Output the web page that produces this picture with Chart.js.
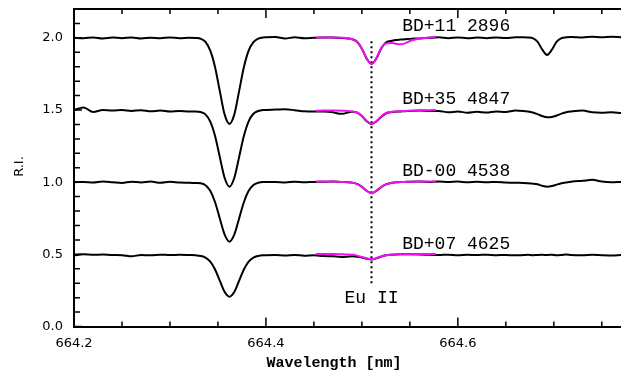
<!DOCTYPE html>
<html>
<head>
<meta charset="utf-8">
<script src="https://cdn.jsdelivr.net/npm/chart.js@4/dist/chart.umd.min.js"></script>
<style>
  html, body { margin: 0; padding: 0; background: #fff; }
</style>
</head>
<body>
<canvas id="chart" width="621" height="371"></canvas>
<script>
// observed spectra (relative intensity, each star shifted by 0.5)
const wave = [
  664.20, 664.21, 664.22, 664.23, 664.24, 664.25, 664.26, 664.27, 664.28, 664.29, 664.30, 664.31, 664.32,
  664.327, 664.332, 664.337, 664.342, 664.347, 664.352, 664.357, 664.362, 664.367, 664.372, 664.377, 664.382, 664.387, 664.392, 664.397,
  664.41, 664.42, 664.43, 664.44, 664.45, 664.46, 664.47,
  664.475, 664.48, 664.485, 664.49, 664.495, 664.50, 664.505, 664.51, 664.515, 664.52, 664.525, 664.53, 664.535, 664.54, 664.545, 664.55,
  664.56, 664.57, 664.58, 664.59, 664.60, 664.61, 664.62, 664.63, 664.64, 664.65, 664.66,
  664.668, 664.673, 664.678, 664.683, 664.688, 664.693, 664.698, 664.703, 664.708, 664.713, 664.718,
  664.73, 664.74, 664.75, 664.76, 664.77
];
const fluxBD11 = [
  2.000, 1.997, 2.003, 1.996, 2.002, 1.998, 2.003, 1.996, 2.001, 1.997, 2.003, 1.998, 2.001,
  1.999, 1.994, 1.972, 1.912, 1.797, 1.629, 1.468, 1.404, 1.468, 1.629, 1.797, 1.912, 1.970, 1.995, 2.003,
  2.006, 1.996, 2.004, 1.997, 2.000, 2.002, 2.002,
  2.000, 1.999, 1.996, 1.990, 1.973, 1.925, 1.856, 1.820, 1.856, 1.925, 1.968, 1.978, 1.985, 1.988, 1.990, 1.993,
  1.996, 2.000, 2.004, 1.998, 2.003, 1.997, 2.002, 1.998, 2.003, 1.999, 2.004,
  2.004, 2.003, 1.998, 1.974, 1.918, 1.882, 1.918, 1.974, 1.998, 2.004, 2.006,
  2.003, 2.008, 2.004, 2.007, 2.005
];
const fluxBD35 = [
  1.500, 1.518, 1.486, 1.500, 1.497, 1.500, 1.494, 1.499, 1.491, 1.497, 1.490, 1.493, 1.489,
  1.489, 1.486, 1.470, 1.420, 1.320, 1.172, 1.029, 0.969, 1.029, 1.172, 1.320, 1.422, 1.474, 1.493, 1.500,
  1.503, 1.505, 1.499, 1.491, 1.489, 1.490, 1.484,
  1.476, 1.474, 1.482, 1.488, 1.482, 1.458, 1.422, 1.403, 1.420, 1.452, 1.476, 1.485, 1.488, 1.490, 1.492, 1.494,
  1.496, 1.493, 1.494, 1.484, 1.490, 1.481, 1.488, 1.482, 1.490, 1.486, 1.496,
  1.494, 1.490, 1.483, 1.472, 1.458, 1.450, 1.452, 1.462, 1.475, 1.485, 1.490,
  1.497, 1.484, 1.481, 1.484, 1.480
];
const fluxBD00 = [
  1.000, 1.001, 0.997, 1.004, 1.000, 0.995, 1.003, 0.998, 1.004, 0.996, 1.003, 0.998, 0.996,
  0.994, 0.992, 0.979, 0.940, 0.861, 0.747, 0.636, 0.588, 0.636, 0.747, 0.861, 0.940, 0.980, 0.996, 1.001,
  1.002, 0.998, 1.003, 0.999, 1.002, 1.003, 1.004,
  1.003, 1.001, 1.000, 0.997, 0.988, 0.968, 0.940, 0.924, 0.940, 0.965, 0.985, 0.995, 0.999, 1.001, 1.002, 1.003,
  1.004, 1.002, 1.005, 1.001, 1.004, 1.000, 1.003, 0.999, 1.002, 0.998, 0.996,
  0.995, 0.993, 0.990, 0.985, 0.975, 0.969, 0.973, 0.983, 0.992, 0.998, 1.003,
  1.010, 1.016, 1.004, 1.000, 1.002
];
const fluxBD07 = [
  0.492, 0.501, 0.497, 0.499, 0.495, 0.494, 0.486, 0.496, 0.493, 0.498, 0.495, 0.497, 0.495,
  0.493, 0.489, 0.478, 0.450, 0.395, 0.316, 0.239, 0.207, 0.239, 0.316, 0.395, 0.450, 0.478, 0.489, 0.493,
  0.495, 0.492, 0.496, 0.490, 0.494, 0.488, 0.486,
  0.484, 0.482, 0.484, 0.486, 0.484, 0.478, 0.470, 0.465, 0.472, 0.484, 0.493, 0.497, 0.499, 0.500, 0.500, 0.500,
  0.499, 0.497, 0.495, 0.498, 0.494, 0.497, 0.495, 0.498, 0.494, 0.496, 0.493,
  0.495, 0.497, 0.494, 0.496, 0.497, 0.495, 0.498, 0.494, 0.496, 0.499, 0.495,
  0.493, 0.497, 0.494, 0.492, 0.495
];

// synthetic fits around Eu II
const synWave = [664.452, 664.46, 664.47, 664.48, 664.485, 664.49, 664.495, 664.50, 664.505, 664.51, 664.515,
  664.52, 664.525, 664.53, 664.535, 664.54, 664.545, 664.55, 664.56, 664.57, 664.577];
const synBD11 = [2.002, 2.003, 2.002, 2.000, 1.997, 1.990, 1.972, 1.925, 1.856, 1.820, 1.856,
  1.930, 1.962, 1.965, 1.960, 1.955, 1.962, 1.978, 1.995, 2.003, 2.008];
const synBD35 = [1.495, 1.496, 1.496, 1.495, 1.494, 1.490, 1.483, 1.460, 1.424, 1.405, 1.422,
  1.455, 1.478, 1.487, 1.490, 1.492, 1.494, 1.495, 1.497, 1.499, 1.500];
const synBD00 = [1.004, 1.004, 1.003, 1.002, 1.000, 0.996, 0.987, 0.967, 0.940, 0.923, 0.940,
  0.965, 0.985, 0.995, 0.999, 1.001, 1.002, 1.003, 1.004, 1.004, 1.004];
const synBD07 = [0.503, 0.503, 0.502, 0.500, 0.499, 0.497, 0.491, 0.482, 0.472, 0.466, 0.474,
  0.486, 0.494, 0.498, 0.499, 0.500, 0.501, 0.501, 0.502, 0.502, 0.502];

const starNames = ["BD+11 2896", "BD+35 4847", "BD-00 4538", "BD+07 4625"];
const starLabelY = [2.083, 1.574, 1.073, 0.572];
const starLabelX = 664.542;

const euWave = 664.51;
const euSpan = [0.30, 1.99];
const euLabel = "Eu II";
const euLabelY = 0.198;

const xMajor = [664.2, 664.4, 664.6];
const yMajor = [0.0, 0.5, 1.0, 1.5, 2.0];

function pts(xs, ys) {
    return xs.map(function (x, i) { return { x: x, y: ys[i] }; });
}
function isMajor(v, list) {
    return list.some(function (m) { return Math.abs(m - v) < 1e-6; });
}

function obs(ys) {
    return { data: pts(wave, ys), borderColor: "#000", borderWidth: 2, pointRadius: 0,
             cubicInterpolationMode: "monotone", order: 2 };
}
function syn(ys) {
    return { data: pts(synWave, ys), borderColor: "#f010f0", borderWidth: 2, pointRadius: 0,
             cubicInterpolationMode: "monotone", order: 1 };
}

// inward ticks, top frame and text labels
const frame = {
    id: "frame",
    afterDraw(chart) {
        const ctx = chart.ctx, a = chart.chartArea;
        const xs = chart.scales.x, ys = chart.scales.y;
        ctx.save();
        ctx.strokeStyle = "#000";
        ctx.lineWidth = 2;
        ctx.beginPath();
        ctx.moveTo(a.left, a.top);
        ctx.lineTo(a.right, a.top);
        ctx.stroke();

        ctx.lineWidth = 1.5;
        ctx.beginPath();
        xs.ticks.forEach(function (t) {
            const px = xs.getPixelForValue(t.value);
            const len = isMajor(t.value, xMajor) ? 9 : 5;
            ctx.moveTo(px, a.bottom); ctx.lineTo(px, a.bottom - len);
            ctx.moveTo(px, a.top); ctx.lineTo(px, a.top + len);
        });
        ys.ticks.forEach(function (t) {
            const py = ys.getPixelForValue(t.value);
            const len = isMajor(t.value, yMajor) ? 8 : 6;
            ctx.moveTo(a.left, py); ctx.lineTo(a.left + len, py);
        });
        ctx.stroke();

        ctx.fillStyle = "#000";
        ctx.font = '18px "Liberation Mono"';
        ctx.textBaseline = "middle";
        ctx.textAlign = "left";
        starNames.forEach(function (n, i) {
            ctx.fillText(n, xs.getPixelForValue(starLabelX), ys.getPixelForValue(starLabelY[i]));
        });
        ctx.textAlign = "center";
        ctx.fillText(euLabel, xs.getPixelForValue(euWave), ys.getPixelForValue(euLabelY));

        ctx.font = 'bold 15px "Liberation Mono"';
        ctx.textBaseline = "alphabetic";
        ctx.fillText("Wavelength [nm]", 334, 367);

        ctx.translate(20, 166.5);
        ctx.rotate(-Math.PI / 2);
        ctx.font = '13px "DejaVu Sans"';
        ctx.textBaseline = "middle";
        ctx.fillText("R.I.", 0, 0);
        ctx.restore();
    }
};

const euMarker = {
    data: [{ x: euWave, y: euSpan[0] }, { x: euWave, y: euSpan[1] }],
    borderColor: "#000", borderWidth: 2, borderDash: [2, 3], pointRadius: 0, order: 3
};

new Chart(document.getElementById("chart"), {
    type: "line",
    data: {
        datasets: [
            syn(synBD11), syn(synBD35), syn(synBD00), syn(synBD07),
            obs(fluxBD11), obs(fluxBD35), obs(fluxBD00), obs(fluxBD07),
            euMarker
        ]
    },
    options: {
        responsive: false,
        animation: false,
        layout: { padding: { top: 9, right: 0, left: 0, bottom: 0 } },
        plugins: { legend: { display: false }, tooltip: { enabled: false } },
        scales: {
            x: {
                type: "linear",
                min: 664.2,
                max: 664.77,
                grid: { display: false, drawTicks: false },
                border: { display: true, color: "#000", width: 2 },
                ticks: {
                    stepSize: 0.05,
                    includeBounds: false,
                    autoSkip: false,
                    maxRotation: 0,
                    padding: 9,
                    color: "#000",
                    font: { family: "DejaVu Sans", size: 13 },
                    callback: function (v) { return isMajor(v, xMajor) ? v.toFixed(1) : ""; }
                },
                afterFit: function (scale) {
                    scale.height = 44.5;
                    scale.paddingLeft = 0;
                    scale.paddingRight = 0;
                }
            },
            y: {
                type: "linear",
                min: 0,
                max: 2.2,
                grid: { display: false, drawTicks: false },
                border: { display: true, color: "#000", width: 2 },
                ticks: {
                    stepSize: 0.1,
                    autoSkip: false,
                    padding: 11,
                    color: "#000",
                    font: { family: "DejaVu Sans", size: 13 },
                    callback: function (v) { return isMajor(v, yMajor) ? v.toFixed(1) : ""; }
                },
                afterFit: function (scale) {
                    scale.width = 74;
                    scale.paddingTop = 0;
                    scale.paddingBottom = 0;
                }
            }
        }
    },
    plugins: [frame]
});
</script>
</body>
</html>
